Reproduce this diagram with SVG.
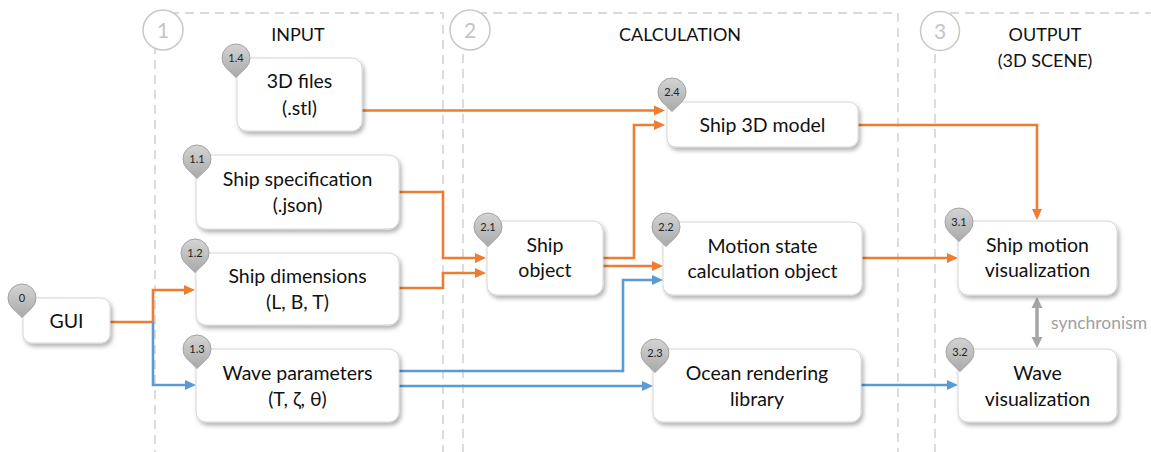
<svg xmlns="http://www.w3.org/2000/svg" width="1151" height="452" viewBox="0 0 1151 452">
  <style>
    .frame { fill: none; stroke: #d9d9d9; stroke-width: 1.8; stroke-dasharray: 9 6; }
    .stage { fill: #ffffff; stroke: #c8c8c8; stroke-width: 1.5; }
    .stage-num { font-family: Lato, "Liberation Sans", sans-serif; font-size: 21px; fill: #c4c4c4; text-anchor: middle; }
    .title { font-family: Lato, "Liberation Sans", sans-serif; font-size: 18px; fill: #111111; text-anchor: middle; }
    .box { fill: #ffffff; stroke: #d6d6d6; stroke-width: 1; filter: url(#shadow); }
    .label { font-family: Lato, "Liberation Sans", sans-serif; font-size: 19.5px; fill: #111111; text-anchor: middle; }
    .pin { fill: url(#pinFill); stroke: #a3a3a3; stroke-width: 1; }
    .pin-num { font-family: Lato, "Liberation Sans", sans-serif; font-size: 11px; fill: #222222; text-anchor: middle; }
    .orange { fill: none; stroke: #ed7d31; stroke-width: 2.6; marker-end: url(#arrowOrange); }
    .blue { fill: none; stroke: #5b9bd5; stroke-width: 2.6; marker-end: url(#arrowBlue); }
    .sync { fill: none; stroke: #a6a6a6; stroke-width: 3.5; marker-start: url(#arrowGray); marker-end: url(#arrowGray); }
    .sync-label { font-family: Lato, "Liberation Sans", sans-serif; font-size: 17.5px; fill: #a0a0a0; }
  </style>
  <defs>
    <filter id="shadow" x="-10%" y="-20%" width="125%" height="150%">
      <feDropShadow dx="2" dy="3" stdDeviation="2.2" flood-color="#000000" flood-opacity="0.3"/>
    </filter>
    <linearGradient id="pinFill" x1="0" y1="0" x2="0" y2="1">
      <stop offset="0" stop-color="#d4d4d4"/>
      <stop offset="1" stop-color="#a9a9a9"/>
    </linearGradient>
    <path id="pinShape" d="M0,19.5 L-10,9.8 A14,14 0 1 1 10,9.8 Z"/>
    <marker id="arrowOrange" markerWidth="12" markerHeight="11" refX="6" refY="5.5" orient="auto" markerUnits="userSpaceOnUse">
      <path d="M0,0.5 L11,5.5 L0,10.5 Z" fill="#ed7d31"/>
    </marker>
    <marker id="arrowBlue" markerWidth="12" markerHeight="11" refX="6" refY="5.5" orient="auto" markerUnits="userSpaceOnUse">
      <path d="M0,0.5 L11,5.5 L0,10.5 Z" fill="#5b9bd5"/>
    </marker>
    <marker id="arrowGray" markerWidth="12" markerHeight="12" refX="6" refY="6" orient="auto-start-reverse" markerUnits="userSpaceOnUse">
      <path d="M0,0.5 L11,6 L0,11.5 Z" fill="#a6a6a6"/>
    </marker>
  </defs>

  <rect width="1151" height="452" fill="#ffffff"/>

  <!-- stage frames -->
  <g id="stages">
    <rect class="frame" x="155" y="13" width="288" height="460"/>
    <rect class="frame" x="463" y="13" width="435" height="460"/>
    <rect class="frame" x="935" y="13" width="240" height="460"/>
    <circle class="stage" cx="163" cy="30" r="20"/>
    <text class="stage-num" x="163" y="37.5">1</text>
    <circle class="stage" cx="470" cy="30" r="20"/>
    <text class="stage-num" x="470" y="37.5">2</text>
    <circle class="stage" cx="940" cy="31" r="19.5"/>
    <text class="stage-num" x="940" y="38.5">3</text>
    <text class="title" x="298" y="41">INPUT</text>
    <text class="title" x="680" y="41">CALCULATION</text>
    <text class="title" x="1045" y="41">OUTPUT</text>
    <text class="title" x="1045" y="67">(3D SCENE)</text>
  </g>

  <!-- connectors -->
  <g id="connectors">
    <path class="orange" d="M362,110.5 H660"/>
    <path class="orange" d="M399,192 H443 V258 H481"/>
    <path class="orange" d="M399,288 H443 V273 H481"/>
    <path class="orange" d="M110,322 H153 V290 H190"/>
    <path class="blue" d="M153,322 V385 H191"/>
    <path class="orange" d="M603,258 H634 V125 H660"/>
    <path class="orange" d="M603,266 H658"/>
    <path class="blue" d="M399,371 H623 V280 H658"/>
    <path class="blue" d="M399,386 H648"/>
    <path class="orange" d="M858,125 H1037 V215"/>
    <path class="orange" d="M862,258 H953"/>
    <path class="blue" d="M861,385 H953"/>
    <path class="sync" d="M1037,302 V343"/>
    <text class="sync-label" x="1051" y="329">synchronism</text>
  </g>

  <!-- nodes -->
  <g id="node-0">
    <rect class="box" x="23" y="298" width="87" height="45" rx="9"/>
    <text class="label" x="66.5" y="328">GUI</text>
    <use href="#pinShape" class="pin" x="22" y="298"/>
    <text class="pin-num" x="22" y="302">0</text>
  </g>
  <g id="node-1-4">
    <rect class="box" x="237" y="58" width="125" height="73" rx="10"/>
    <text class="label" x="299.5" y="88">3D files</text>
    <text class="label" x="299.5" y="115">(.stl)</text>
    <use href="#pinShape" class="pin" x="236" y="58"/>
    <text class="pin-num" x="236" y="62">1.4</text>
  </g>
  <g id="node-1-1">
    <rect class="box" x="196" y="155" width="203" height="74" rx="10"/>
    <text class="label" x="297.5" y="186">Ship specification</text>
    <text class="label" x="297.5" y="212">(.json)</text>
    <use href="#pinShape" class="pin" x="197" y="159"/>
    <text class="pin-num" x="197" y="163">1.1</text>
  </g>
  <g id="node-1-2">
    <rect class="box" x="196" y="253" width="203" height="72" rx="10"/>
    <text class="label" x="297.5" y="283">Ship dimensions</text>
    <text class="label" x="297.5" y="309">(L, B, T)</text>
    <use href="#pinShape" class="pin" x="195" y="253"/>
    <text class="pin-num" x="195" y="257">1.2</text>
  </g>
  <g id="node-1-3">
    <rect class="box" x="196" y="349" width="203" height="73" rx="10"/>
    <text class="label" x="297.5" y="380">Wave parameters</text>
    <text class="label" x="297.5" y="406">(T, ζ, θ)</text>
    <use href="#pinShape" class="pin" x="197" y="349"/>
    <text class="pin-num" x="197" y="353">1.3</text>
  </g>
  <g id="node-2-1">
    <rect class="box" x="487" y="221" width="116" height="74" rx="10"/>
    <text class="label" x="545" y="252">Ship</text>
    <text class="label" x="545" y="277">object</text>
    <use href="#pinShape" class="pin" x="488" y="227"/>
    <text class="pin-num" x="488" y="231">2.1</text>
  </g>
  <g id="node-2-4">
    <rect class="box" x="667" y="102" width="191" height="45" rx="9"/>
    <text class="label" x="762.5" y="132">Ship 3D model</text>
    <use href="#pinShape" class="pin" x="672" y="92"/>
    <text class="pin-num" x="672" y="96">2.4</text>
  </g>
  <g id="node-2-2">
    <rect class="box" x="663" y="222" width="199" height="73" rx="10"/>
    <text class="label" x="762.5" y="253">Motion state</text>
    <text class="label" x="762.5" y="278">calculation object</text>
    <use href="#pinShape" class="pin" x="666" y="227"/>
    <text class="pin-num" x="666" y="231">2.2</text>
  </g>
  <g id="node-2-3">
    <rect class="box" x="653" y="349" width="208" height="73" rx="10"/>
    <text class="label" x="757" y="380">Ocean rendering</text>
    <text class="label" x="757" y="406">library</text>
    <use href="#pinShape" class="pin" x="655" y="353"/>
    <text class="pin-num" x="655" y="357">2.3</text>
  </g>
  <g id="node-3-1">
    <rect class="box" x="958" y="221" width="159" height="74" rx="10"/>
    <text class="label" x="1037.5" y="252">Ship motion</text>
    <text class="label" x="1037.5" y="277">visualization</text>
    <use href="#pinShape" class="pin" x="959" y="222"/>
    <text class="pin-num" x="959" y="226">3.1</text>
  </g>
  <g id="node-3-2">
    <rect class="box" x="958" y="349" width="159" height="73" rx="10"/>
    <text class="label" x="1037.5" y="380">Wave</text>
    <text class="label" x="1037.5" y="406">visualization</text>
    <use href="#pinShape" class="pin" x="960" y="352"/>
    <text class="pin-num" x="960" y="356">3.2</text>
  </g>
</svg>
